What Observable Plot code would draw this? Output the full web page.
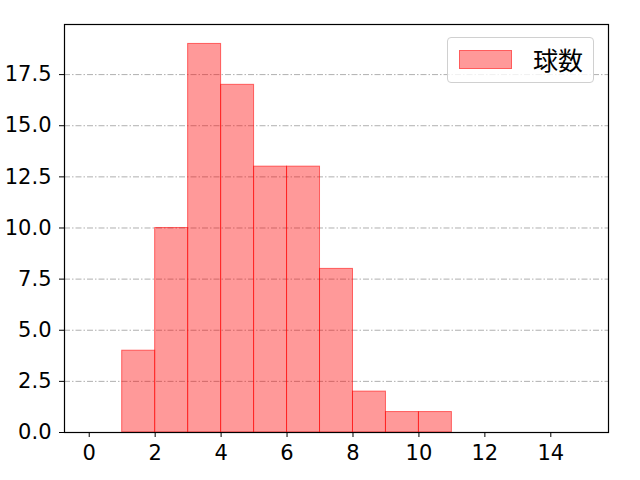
<!DOCTYPE html>
<html>
<head>
<meta charset="utf-8">
<script src="https://cdn.jsdelivr.net/npm/d3@7"></script>
<script src="https://cdn.jsdelivr.net/npm/@observablehq/plot@0.6"></script>
<style>
  html, body { margin: 0; padding: 0; background: #fff; }
  #wrap { position: relative; width: 640px; height: 480px; font-family: "DejaVu Sans", sans-serif; }
  #wrap svg text { font-family: "DejaVu Sans", sans-serif !important; font-size: 21px !important; }
  #legend { position: absolute; left: 447px; top: 37px; width: 147px; height: 46px; border: 1px solid #d0d0d0; border-radius: 4px; background: rgba(255,255,255,0.8); box-sizing: border-box; }
  #legend .patch { position: absolute; left: 11px; top: 12px; width: 53px; height: 19px; background: rgba(255,0,0,0.4); border: 1px solid rgba(255,0,0,0.4); box-sizing: border-box; }
  #legend .label { position: absolute; left: 85px; top: 2px; font-family: "Noto Sans CJK JP", sans-serif; font-size: 25px; line-height: 38px; color: #000; }
</style>
</head>
<body>
<div id="wrap"></div>
<script>
const binStart = [1, 2, 3, 4, 5, 6, 7, 8, 9, 10];
const binEnd   = [2, 3, 4, 5, 6, 7, 8, 9, 10, 11];
const counts   = [4, 10, 19, 17, 13, 13, 8, 2, 1, 1];
const seriesName = "球数";
const xTicks = [0, 2, 4, 6, 8, 10, 12, 14];
const yTicks = [0, 2.5, 5, 7.5, 10, 12.5, 15, 17.5];

const bins = binStart.map((s, i) => ({x1: s, x2: binEnd[i], y: counts[i]}));

const chart = Plot.plot({
  width: 640,
  height: 480,
  marginLeft: 64,
  marginRight: 32,
  marginTop: 24,
  marginBottom: 48,
  style: {fontFamily: '"DejaVu Sans", sans-serif', fontSize: "21px", color: "#000", background: "#fff"},
  x: {domain: [-0.75, 15.75], label: null},
  y: {domain: [0, 19.95], label: null},
  marks: [
    Plot.ruleY(yTicks.filter(d => d > 0), {stroke: "#b0b0b0", strokeWidth: 1, strokeDasharray: "6,2,1.5,2"}),
    Plot.rectY(bins, {x1: "x1", x2: "x2", y: "y", fill: "red", fillOpacity: 0.4, stroke: "red", strokeOpacity: 0.55, strokeWidth: 1, inset: 0}),
    Plot.axisX({ticks: xTicks, tickSize: 5, tickPadding: 8, tickFormat: d3.format("d"), label: null}),
    Plot.axisY({ticks: yTicks, tickSize: 5, tickPadding: 8, tickFormat: d3.format(".1f"), label: null}),
    Plot.frame({stroke: "#000", strokeWidth: 1.2})
  ]
});

const wrap = document.getElementById("wrap");
wrap.appendChild(chart);
const legend = document.createElement("div");
legend.id = "legend";
legend.innerHTML = `<div class="patch"></div><div class="label">${seriesName}</div>`;
wrap.appendChild(legend);
</script>
</body>
</html>
